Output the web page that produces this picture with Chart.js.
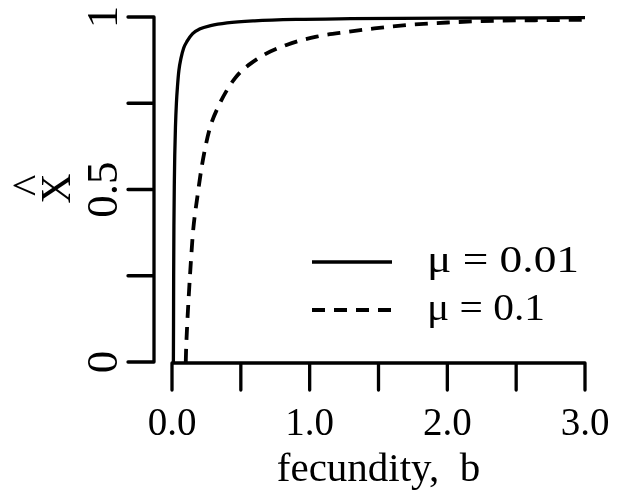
<!DOCTYPE html>
<html>
<head>
<meta charset="utf-8">
<script src="https://cdn.jsdelivr.net/npm/chart.js@4"></script>
<style>
  html, body { margin: 0; padding: 0; background: #fff; }
</style>
</head>
<body>
<canvas id="chart" width="621" height="490"></canvas>
<script>
// equilibrium X-hat against fecundity b
const bLow = [0.010, 0.011, 0.012, 0.014, 0.017, 0.020, 0.025, 0.032, 0.040, 0.050, 0.065, 0.085, 0.11, 0.15, 0.20, 0.28, 0.40, 0.60, 0.90, 1.30, 2.00, 3.00];
const xLow = [0.0, 0.10, 0.25, 0.40, 0.52, 0.60, 0.68, 0.75, 0.80, 0.845, 0.88, 0.91, 0.93, 0.952, 0.965, 0.975, 0.983, 0.989, 0.993, 0.995, 0.997, 0.998];
const bHigh = [0.100, 0.102, 0.111, 0.123, 0.137, 0.154, 0.183, 0.216, 0.271, 0.336, 0.457, 0.626, 0.832, 1.05, 1.28, 1.47, 1.75, 2.00, 2.25, 2.50, 2.75, 3.00];
const xHigh = [0.0, 0.03, 0.113, 0.20, 0.29, 0.383, 0.475, 0.566, 0.672, 0.74, 0.822, 0.88, 0.919, 0.943, 0.957, 0.967, 0.978, 0.984, 0.988, 0.99, 0.991, 0.992];
const seriesLabels = ['\u03bc = 0.01', '\u03bc = 0.1'];

const xTicks = [0, 0.5, 1, 1.5, 2, 2.5, 3];
const xTickLabels = ['0.0', '', '1.0', '', '2.0', '', '3.0'];
const yTicks = [0, 0.25, 0.5, 0.75, 1];
const yTickLabels = ['0', '', '0.5', '', '1'];
const xTitle = 'fecundity,  b';
const yTitle = 'X';
const yTitleHat = '^';

const SERIF = '"Liberation Serif", "Times New Roman", serif';

// R-style axes: detached y axis, outward ticks, rotated y labels
const rAxes = {
  id: 'rAxes',
  afterDraw(chart) {
    const ctx = chart.ctx;
    const xs = chart.scales.x;
    const ys = chart.scales.y;
    const y0 = ys.getPixelForValue(0) + 1;
    const axisX = xs.getPixelForValue(0) - 18;
    const tickLen = 27;

    ctx.save();
    ctx.strokeStyle = '#000';
    ctx.fillStyle = '#000';
    ctx.lineWidth = 3.3;
    ctx.lineCap = 'round';

    // x axis
    ctx.beginPath();
    ctx.moveTo(xs.getPixelForValue(xTicks[0]), y0);
    ctx.lineTo(xs.getPixelForValue(xTicks[xTicks.length - 1]), y0);
    xTicks.forEach(v => {
      const px = xs.getPixelForValue(v);
      ctx.moveTo(px, y0);
      ctx.lineTo(px, y0 + tickLen);
    });
    ctx.stroke();

    ctx.font = '39px ' + SERIF;
    ctx.textAlign = 'center';
    ctx.textBaseline = 'alphabetic';
    xTicks.forEach((v, i) => {
      if (xTickLabels[i]) ctx.fillText(xTickLabels[i], xs.getPixelForValue(v), 435);
    });
    ctx.font = '41px ' + SERIF;
    ctx.fillText(xTitle, (xs.left + xs.right) / 2, 481);

    // y axis
    ctx.beginPath();
    ctx.moveTo(axisX, ys.getPixelForValue(yTicks[0]));
    ctx.lineTo(axisX, ys.getPixelForValue(yTicks[yTicks.length - 1]));
    yTicks.forEach(v => {
      const py = ys.getPixelForValue(v);
      ctx.moveTo(axisX, py);
      ctx.lineTo(axisX - tickLen + 1, py);
    });
    ctx.stroke();

    ctx.font = '45px ' + SERIF;
    yTicks.forEach((v, i) => {
      if (!yTickLabels[i]) return;
      ctx.save();
      ctx.translate(117, ys.getPixelForValue(v));
      ctx.rotate(-Math.PI / 2);
      ctx.fillText(yTickLabels[i], 0, 0);
      ctx.restore();
    });

    const midY = (ys.top + ys.bottom) / 2 - 1;
    ctx.save();
    ctx.translate(70, midY);
    ctx.rotate(-Math.PI / 2);
    ctx.font = '42px ' + SERIF;
    ctx.fillText(yTitle, 0, 0);
    ctx.restore();

    ctx.font = '46px ' + SERIF;
    const m = ctx.measureText(yTitleHat);
    const hatBase = 23.5 - (m.actualBoundingBoxDescent - m.actualBoundingBoxAscent) / 2;
    ctx.save();
    ctx.translate(hatBase, midY - 3);
    ctx.rotate(-Math.PI / 2);
    ctx.fillText(yTitleHat, 0, 0);
    ctx.restore();

    // legend inside the plot
    const legendRows = [262, 310];
    chart.data.datasets.forEach((ds, i) => {
      const ly = legendRows[i];
      ctx.save();
      ctx.lineWidth = ds.borderWidth;
      ctx.lineCap = 'butt';
      ctx.setLineDash(ds.borderDash || []);
      ctx.beginPath();
      ctx.moveTo(312, ly);
      ctx.lineTo(392, ly);
      ctx.stroke();
      ctx.restore();

      ctx.save();
      ctx.font = '37px ' + SERIF;
      ctx.textAlign = 'left';
      const w = ctx.measureText(ds.label).width;
      const target = i === 0 ? 152 : 118;
      ctx.translate(427, ly + 10);
      ctx.scale(Math.max(1, target / w), 1);
      ctx.fillText(ds.label, 0, 0);
      ctx.restore();
    });

    ctx.restore();
  }
};

const lowPoints = bLow.map((b, i) => ({ x: b, y: xLow[i] }));
const highPoints = bHigh.map((b, i) => ({ x: b, y: xHigh[i] }));

new Chart(document.getElementById('chart'), {
  type: 'scatter',
  data: {
    datasets: [
      {
        label: seriesLabels[0],
        data: lowPoints,
        showLine: true,
        borderColor: '#000',
        borderWidth: 3.3,
        pointRadius: 0,
        cubicInterpolationMode: 'monotone',
        fill: false,
        clip: false
      },
      {
        label: seriesLabels[1],
        data: highPoints,
        showLine: true,
        borderColor: '#000',
        borderWidth: 3.8,
        borderDash: [13, 9],
        borderCapStyle: 'butt',
        pointRadius: 0,
        cubicInterpolationMode: 'monotone',
        fill: false,
        clip: false
      }
    ]
  },
  options: {
    responsive: false,
    animation: false,
    devicePixelRatio: 1,
    layout: { padding: { left: 172, right: 36, top: 17, bottom: 128 } },
    scales: {
      x: { type: 'linear', min: 0, max: 3, display: false },
      y: { type: 'linear', min: 0, max: 1, display: false }
    },
    plugins: {
      legend: { display: false },
      tooltip: { enabled: false }
    }
  },
  plugins: [rAxes]
});
</script>
</body>
</html>
